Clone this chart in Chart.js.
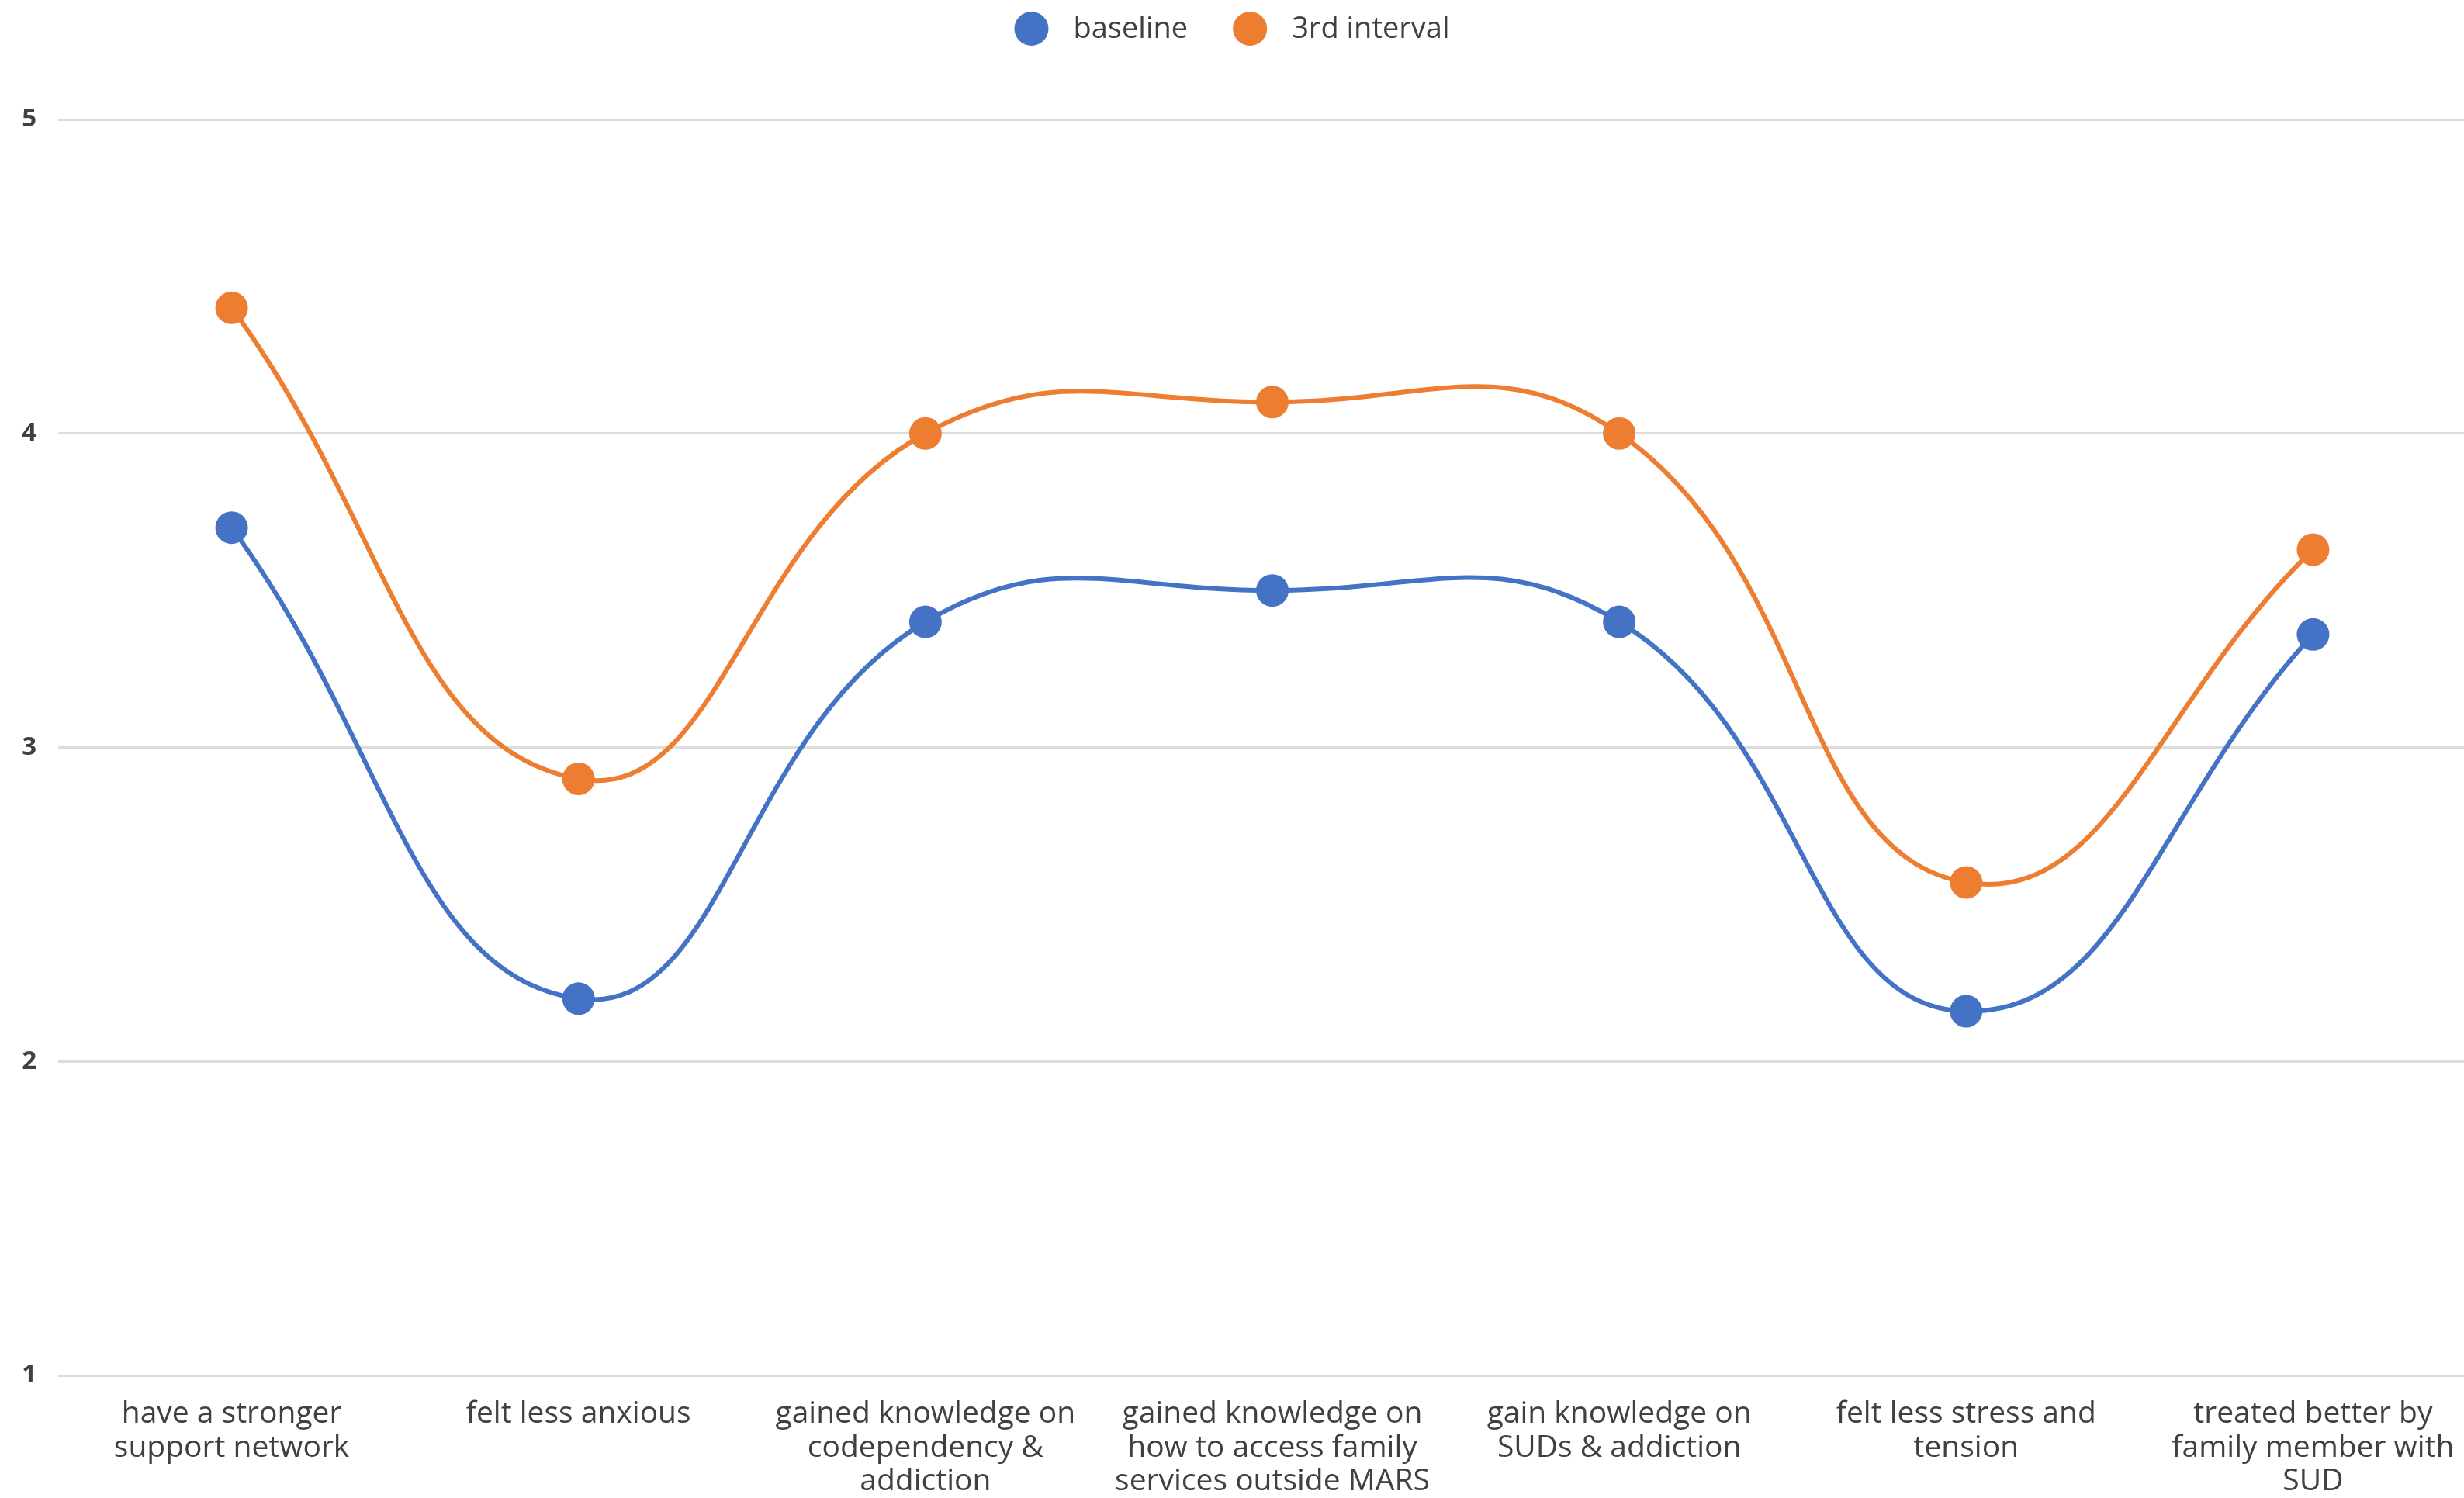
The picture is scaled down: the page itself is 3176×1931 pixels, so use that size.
<!DOCTYPE html>
<html>
<head>
<meta charset="utf-8">
<script src="https://cdn.jsdelivr.net/npm/chart.js@4.4.1/dist/chart.umd.min.js"></script>
<style>
  html, body { margin: 0; padding: 0; background: #fff; overflow: hidden; }
  canvas { display: block; }
</style>
</head>
<body>
<canvas id="chart" width="3226" height="1931"></canvas>
<script>
// categories (x axis)
const categories = [
    ['have a stronger', 'support network'],
    ['felt less anxious'],
    ['gained knowledge on', 'codependency &', 'addiction'],
    ['gained knowledge on', 'how to access family', 'services outside MARS'],
    ['gain knowledge on', 'SUDs & addiction'],
    ['felt less stress and', 'tension'],
    ['treated better by', 'family member with', 'SUD']
];

// series values
const baseline = [3.7, 2.2, 3.4, 3.5, 3.4, 2.16, 3.36];
const thirdInterval = [4.4, 2.9, 4.0, 4.1, 4.0, 2.57, 3.63];

// y ticks
const yTicks = [1, 2, 3, 4, 5];

const BLUE = '#4472C4';
const ORANGE = '#ED7D31';
const TEXT = '#404040';
const FONT = 'Open Sans';

function series(label, data, color) {
    return {
        label: label,
        data: data,
        borderColor: color,
        backgroundColor: color,
        pointBackgroundColor: color,
        pointBorderColor: color,
        pointBorderWidth: 0,
        pointRadius: 21,
        borderWidth: 6,
        tension: 0.45,
        fill: false
    };
}

// legend drawn by hand so the spacing can match: dot, gap, text
const dotLegend = {
    id: 'dotLegend',
    afterDraw(chart) {
        const ctx = chart.ctx;
        const r = 22, gapText = 32, gapItem = 58, cy = 37;
        ctx.save();
        ctx.font = '38px "' + FONT + '"';
        ctx.textBaseline = 'middle';
        const items = chart.data.datasets.map(ds => ({
            text: ds.label, color: ds.borderColor, w: ctx.measureText(ds.label).width
        }));
        let total = 0;
        items.forEach((it, i) => { total += 2 * r + gapText + it.w + (i ? gapItem : 0); });
        let x = 3176 / 2 - total / 2;
        items.forEach(it => {
            ctx.fillStyle = it.color;
            ctx.beginPath();
            ctx.arc(x + r, cy, r, 0, Math.PI * 2);
            ctx.fill();
            ctx.fillStyle = TEXT;
            ctx.fillText(it.text, x + 2 * r + gapText, cy + 1);
            x += 2 * r + gapText + it.w + gapItem;
        });
        ctx.restore();
    }
};

new Chart(document.getElementById('chart'), {
    type: 'line',
    data: {
        labels: categories,
        datasets: [
            series('baseline', baseline, BLUE),
            series('3rd interval', thirdInterval, ORANGE)
        ]
    },
    options: {
        responsive: false,
        animation: false,
        layout: { padding: { top: 154, left: 0, right: 0, bottom: 0 } },
        plugins: {
            legend: { display: false },
            tooltip: { enabled: false }
        },
        scales: {
            x: {
                offset: true,
                grid: { display: false },
                border: { display: false },
                ticks: {
                    color: TEXT,
                    maxRotation: 0,
                    autoSkip: false,
                    padding: 20,
                    font: { family: FONT, size: 39, lineHeight: 1.12 }
                },
                afterFit: function (scale) { scale.height = 158; }
            },
            y: {
                min: 1,
                max: 5,
                afterBuildTicks: function (scale) {
                    scale.ticks = yTicks.map(v => ({ value: v }));
                },
                grid: { color: '#dcdcdc', lineWidth: 3, drawTicks: false },
                border: { display: false },
                ticks: {
                    color: TEXT,
                    padding: 28,
                    font: { family: FONT, size: 33, weight: 'bold' }
                },
                afterFit: function (scale) { scale.width = 75; }
            }
        }
    },
    plugins: [dotLegend]
});
</script>
</body>
</html>
